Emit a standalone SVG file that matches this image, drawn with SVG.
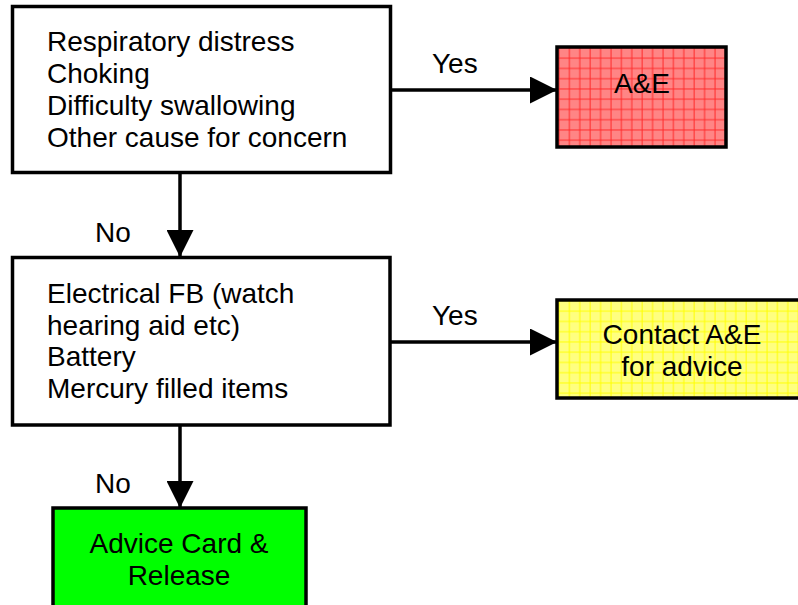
<svg xmlns="http://www.w3.org/2000/svg" width="798" height="605" viewBox="0 0 798 605">
<style>
text{font-family:"Liberation Sans",Arial,sans-serif;font-size:28px;fill:#000}
.box{stroke:#000;stroke-width:3.5}
.mid{text-anchor:middle}
.conn{stroke:#000;stroke-width:3.5;fill:none;marker-end:url(#arrow)}
</style>
<defs>
<marker id="arrow" markerUnits="userSpaceOnUse" markerWidth="27" markerHeight="27" refX="27" refY="13.5" orient="auto">
<path d="M0,0 L27,13.5 L0,27 Z" fill="#000"/>
</marker>
<pattern id="redgrid" patternUnits="userSpaceOnUse" x="557" y="47" width="10.4" height="10.25">
<rect width="10.4" height="10.25" fill="#ff8585"/>
<path d="M2,0 V10.25 M0,1 H10.4" stroke="#ff2a2a" stroke-width="1"/>
</pattern>
<pattern id="yellowgrid" patternUnits="userSpaceOnUse" x="557" y="300" width="10.4" height="10.25">
<rect width="10.4" height="10.25" fill="#ffff80"/>
<path d="M2,0 V10.25 M0,1 H10.4" stroke="#ffff00" stroke-width="1"/>
</pattern>
</defs>
<g id="connectors">
<path class="conn" d="M392,90 H557"/>
<path class="conn" d="M180,173 V257"/>
<path class="conn" d="M390,342 H557"/>
<path class="conn" d="M180,425 V508"/>
<text x="432" y="73">Yes</text>
<text x="432" y="325">Yes</text>
<text x="95" y="242">No</text>
<text x="95" y="493">No</text>
</g>
<g id="q1">
<rect class="box" x="12.5" y="6.5" width="378" height="166" fill="#fff"/>
<text x="47" y="51">Respiratory distress</text>
<text x="47" y="83">Choking</text>
<text x="47" y="115">Difficulty swallowing</text>
<text x="47" y="147">Other cause for concern</text>
</g>
<g id="ae">
<rect class="box" x="557" y="47" width="169" height="100" fill="url(#redgrid)"/>
<text class="mid" x="642" y="93">A&amp;E</text>
</g>
<g id="q2">
<rect class="box" x="12.5" y="257.5" width="377.5" height="167.5" fill="#fff"/>
<text x="47" y="303">Electrical FB (watch</text>
<text x="47" y="335">hearing aid etc)</text>
<text x="47" y="366">Battery</text>
<text x="47" y="398">Mercury filled items</text>
</g>
<g id="contact">
<rect class="box" x="557" y="300" width="260" height="98" fill="url(#yellowgrid)"/>
<text class="mid" x="682" y="344">Contact A&amp;E</text>
<text class="mid" x="682" y="376">for advice</text>
</g>
<g id="release">
<rect class="box" x="53" y="508" width="253" height="120" fill="#00ff00"/>
<text class="mid" x="179" y="553">Advice Card &amp;</text>
<text class="mid" x="179" y="585">Release</text>
</g>
</svg>
